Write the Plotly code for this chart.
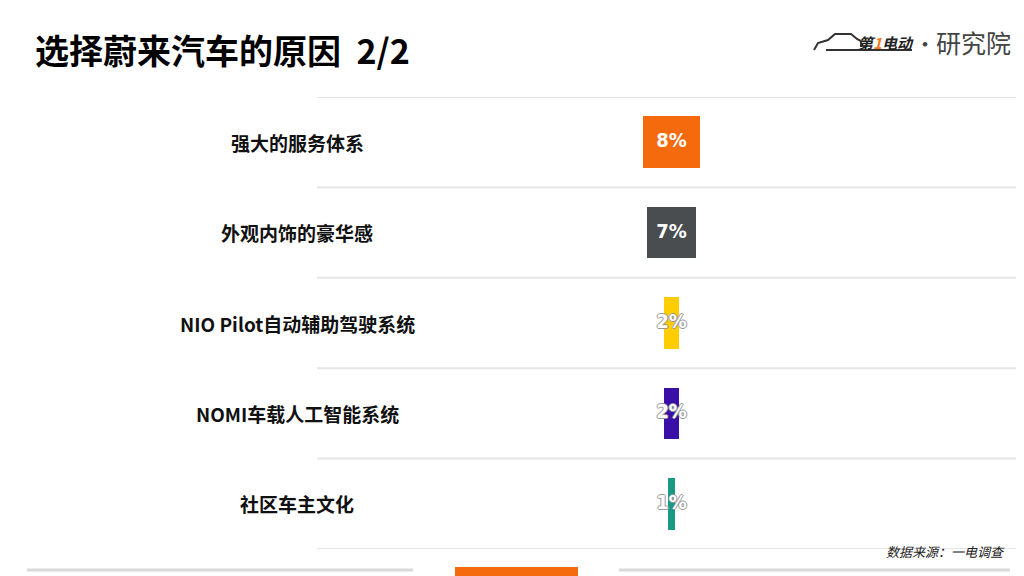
import plotly.graph_objects as go

# ---- data ----
categories = ["强大的服务体系", "外观内饰的豪华感", "NIO Pilot自动辅助驾驶系统", "NOMI车载人工智能系统", "社区车主文化"]
values = [8, 7, 2, 2, 1]
value_labels = ["8%", "7%", "2%", "2%", "1%"]
bar_colors = ["#F56A0C", "#4A4D50", "#FFCC00", "#3A0FA8", "#1A9A85"]

# reference-frame geometry (page body adds an 8px offset)
OFF = 8
W, H = 1024, 576
ML, MR, MT, MB = 317, 0, 97, 27
PW, PH = W - ML - MR, H - MT - MB


def px(x):
    return (x - ML) / PW


def py(y):
    return (H - MB - y) / PH


ypos = list(range(len(categories)))
half = [-v / 2 for v in values]
NUM_FONT = "Liberation Sans Narrow, DejaVu Sans Condensed, Arial Narrow, Liberation Sans, sans-serif"

fig = go.Figure()
fig.add_trace(go.Bar(
    y=ypos, x=values, base=half, orientation="h",
    marker=dict(color=bar_colors, line=dict(width=0)),
    width=0.57, textposition="none", hoverinfo="skip", showlegend=False,
))

big = [i for i, v in enumerate(values) if v >= 5]
small = [i for i, v in enumerate(values) if v < 5]
fig.add_trace(go.Scatter(
    x=[0] * len(big), y=[ypos[i] for i in big], text=[value_labels[i] for i in big],
    mode="text", textposition="middle center",
    textfont=dict(family=NUM_FONT, size=20, color="white", weight="bold"),
    hoverinfo="skip", showlegend=False,
))
fig.add_trace(go.Scatter(
    x=[0] * len(small), y=[ypos[i] for i in small], text=[value_labels[i] for i in small],
    mode="text", textposition="middle center",
    textfont=dict(family=NUM_FONT, size=20, color="white", weight="bold",
                  shadow="-1px 0 #999, 1px 0 #999, 0 -1px #999, 0 1px #999"),
    hoverinfo="skip", showlegend=False,
))

shapes = []
for k in range(len(categories) + 1):
    yv = k - 0.5
    shapes.append(dict(type="line", xref="paper", yref="y", x0=0, x1=1, y0=yv, y1=yv,
                       line=dict(color="#E6E6E6", width=2), layer="below"))
shapes.append(dict(type="line", xref="paper", yref="paper", x0=px(27), x1=px(413), y0=py(570), y1=py(570),
                   line=dict(color="#D9D9D9", width=3)))
shapes.append(dict(type="line", xref="paper", yref="paper", x0=px(619), x1=px(1010), y0=py(570), y1=py(570),
                   line=dict(color="#D9D9D9", width=3)))
shapes.append(dict(type="rect", xref="paper", yref="paper", x0=px(455), x1=px(578), y0=py(580), y1=py(567),
                   fillcolor="#F56A0C", line=dict(width=0)))
car = [(814, 50), (818, 43), (828, 40), (835, 34), (851, 34), (857, 39), (861, 41), (861, 47)]
path = "M " + " L ".join(f"{px(a):.5f},{py(b):.5f}" for a, b in car)
shapes.append(dict(type="path", xref="paper", yref="paper", path=path,
                   line=dict(color="#333333", width=2)))
shapes.append(dict(type="line", xref="paper", yref="paper", x0=px(826), x1=px(912), y0=py(50), y1=py(50),
                   line=dict(color="#333333", width=2)))

annotations = []
label_x = px(297)
for i, c in enumerate(categories):
    annotations.append(dict(x=label_x, y=ypos[i], xref="paper", yref="y", text=f"<b>{c}</b>",
                            showarrow=False, xanchor="center", yanchor="middle",
                            font=dict(family="Noto Sans CJK SC", size=19, color="#111111")))
annotations.append(dict(x=px(33), y=py(49), xref="paper", yref="paper",
                        text="<b>选择蔚来汽车的原因  2/2</b>", showarrow=False,
                        xanchor="left", yanchor="middle",
                        font=dict(family="Noto Sans CJK SC", size=34, color="#000000")))
annotations.append(dict(x=px(916), y=py(42), xref="paper", yref="paper",
                        text="<b><i>第<span style='color:#F47920'>1</span>电动</i></b>",
                        showarrow=False, xanchor="right", yanchor="middle",
                        font=dict(family="Noto Sans CJK SC", size=15, color="#222222")))
annotations.append(dict(x=px(925), y=py(43), xref="paper", yref="paper",
                        text="<b>·</b>", showarrow=False, xanchor="center", yanchor="middle",
                        font=dict(family="Noto Sans CJK SC", size=18, color="#444444")))
annotations.append(dict(x=px(1013), y=py(42), xref="paper", yref="paper",
                        text="研究院", showarrow=False, xanchor="right", yanchor="middle",
                        font=dict(family="Noto Sans CJK SC", size=25, color="#444444")))
annotations.append(dict(x=px(1007), y=py(551), xref="paper", yref="paper",
                        text="<i>数据来源：一电调查</i>", showarrow=False, xanchor="right", yanchor="middle",
                        font=dict(family="Noto Sans CJK SC", size=13, color="#222222")))

left_span = (671.5 - ML) / 7.1
right_span = (W - 671.5) / 7.1
fig.update_layout(
    width=W - OFF, height=H - OFF,
    margin=dict(l=ML - OFF, r=MR, t=MT - OFF, b=MB, pad=0),
    paper_bgcolor="white", plot_bgcolor="white",
    xaxis=dict(range=[-left_span, right_span], visible=False, fixedrange=True),
    yaxis=dict(range=[len(categories) - 0.5, -0.5], visible=False, fixedrange=True),
    shapes=shapes, annotations=annotations, bargap=0,
)
fig.write_html("out.html", config={"displayModeBar": False})
